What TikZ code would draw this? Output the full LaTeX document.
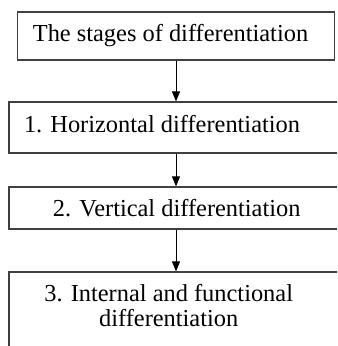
\documentclass[tikz,border=0pt]{standalone}
\usepackage{fontspec}
\setmainfont{Liberation Serif}
\usepackage{tikz}
\usetikzlibrary{arrows.meta}
\tikzstyle{stage}=[draw=black!75, line width=0.6pt, rectangle, inner sep=0pt]
\tikzstyle{caption}=[anchor=base, inner sep=0pt, align=center, font=\fontsize{12.2}{12.5}\selectfont]
\tikzstyle{arrow}=[draw=black, line width=0.5pt, -{Triangle[length=5pt, width=4pt]}]

\begin{document}
\begin{tikzpicture}[x=0.5pt, y=-0.5pt]
		   \clip (0, 0) rectangle (337, 346);
		   \begin{scope}
			   \node (stages) at (176, 36)[stage, minimum width=158.5pt, minimum height=24pt] {};
			   \node (horizontal) at (176, 127.5)[stage, minimum width=167pt, minimum height=25.5pt] {};
			   \node (vertical) at (176, 208)[stage, minimum width=167pt, minimum height=21pt] {};
			   \node (internal) at (176, 316)[stage, minimum width=167pt, minimum height=44pt] {};
		   \end{scope}
		   \begin{scope}
			   \node (stagestext) at (170.5, 41.7)[caption] {The stages of differentiation};
			   \node (horizontaltext) at (162, 132.7)[caption] {1. Horizontal differentiation};
			   \node (verticaltext) at (176.7, 216.7)[caption] {2. Vertical differentiation};
			   \node (internaltext) at (168.7, 326.7)[caption] {3. Internal and functional\\differentiation};
		   \end{scope}
		   \begin{scope}
			   \path [arrow] (stages) edge (horizontal);
			   \path [arrow] (horizontal) edge (vertical);
			   \path [arrow] (vertical) edge (internal);
		   \end{scope}
	   \end{tikzpicture}
\end{document}
